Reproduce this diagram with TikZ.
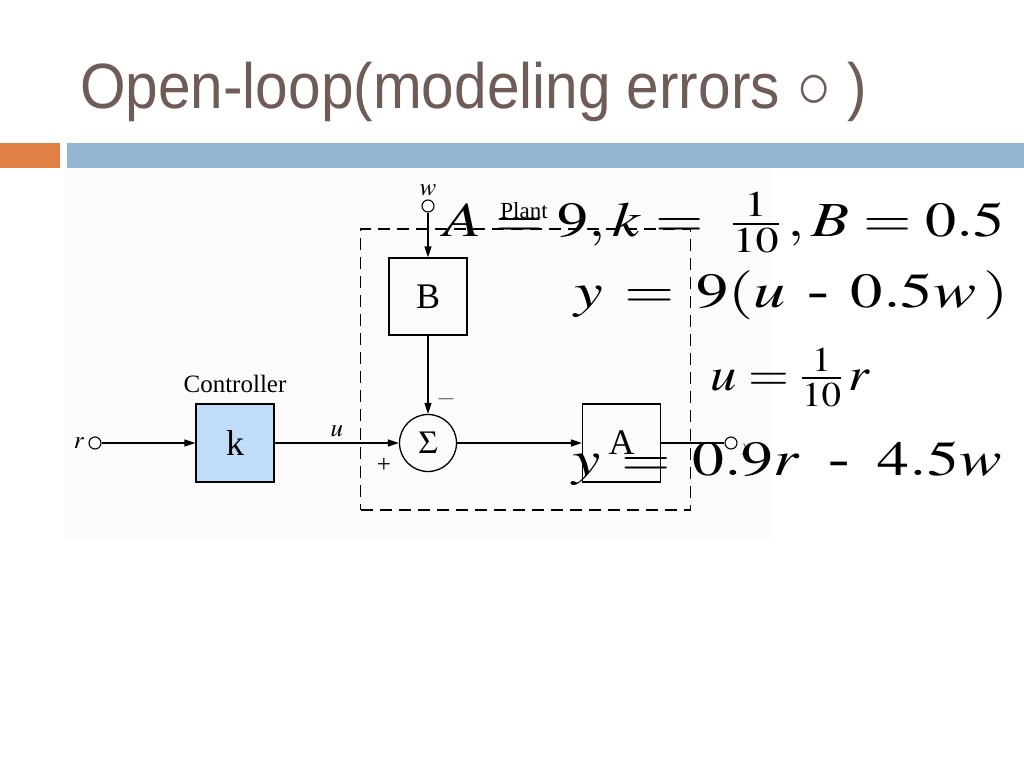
\documentclass[tikz,border=0pt]{standalone}
\usepackage{mathptmx}
\usepackage{fontspec}
\setmainfont{Liberation Serif}
\newfontfamily\titlefont{Liberation Sans}
\usetikzlibrary{arrows.meta,positioning}
\definecolor{titlegray}{RGB}{112,92,86}
\definecolor{barorange}{RGB}{224,128,70}
\definecolor{barblue}{RGB}{147,182,210}
\definecolor{ctrlblue}{RGB}{191,221,248}
\begin{document}
\begin{tikzpicture}[
    x=1pt, y=-1pt,
    >={Triangle[length=11pt,width=7pt]},
    blk/.style={draw, line width=1.3pt, minimum width=78pt, minimum height=78pt,
                inner sep=0pt, font=\fontsize{36}{38}\selectfont},
    port/.style={draw, circle, line width=1.1pt, minimum size=12pt, inner sep=0pt, fill=white},
    sig/.style={line width=1.3pt},
    lbl/.style={inner sep=0pt, font=\fontsize{25}{27}\selectfont},
    eq/.style={inner sep=0pt, anchor=base west, font=\fontsize{49}{51}\selectfont}
]
    \useasboundingbox (0,0) rectangle (1024,768);
    \fill[white] (0,0) rectangle (1024,768);
    \fill[black!1.5] (65,168) rectangle (772,540);
    \fill[barorange] (0,143) rectangle (60,168);
    \fill[barblue] (67,143) rectangle (1024,168);

    \node[inner sep=0pt, anchor=base west, text=titlegray,
          font=\titlefont\fontsize{64}{66}\selectfont] (title) at (80,108)
        {\scalebox{0.915}[1]{Open-loop(modeling errors ○ )}};

    \node[draw, line width=1.8pt, dash pattern=on 12pt off 7pt,
          minimum width=330pt, minimum height=281pt] (plant) at (525.5,369.5) {};
    \node[lbl, font=\fontsize{23}{25}\selectfont] (plantlbl) at (524,211) {Plant};

    \node[port] (r) at (95,443) {};
    \node[lbl, left=4pt of r] (rlbl) {$r$};
    \node[blk, fill=ctrlblue] (k) at (235,443) {k};
    \node[lbl, above=10pt of k] (ctrl) {Controller};
    \node[draw, circle, sig, minimum size=57pt, inner sep=0pt,
          font=\fontsize{32}{34}\selectfont] (sum) at (428,443) {$\Sigma$};
    \node[blk, minimum height=77pt] (B) at (428,296.5) {B};
    \node[blk] (A) at (621.5,443) {A};
    \node[port] (w) at (428,206) {};
    \node[lbl, above=3pt of w] (wlbl) {$w$};
    \node[port] (y) at (731,443) {};
    \node[lbl, font=\fontsize{17}{19}\selectfont, text=black!55] (ylbl) at (746,450) {$y$};
    \node[lbl] (plus) at (384,465) {+};
    \node[lbl, text=black!70] (minus) at (446,399) {$-$};

    \draw[sig, ->] (r) -- (k);
    \draw[sig, ->] (k) -- node[lbl, above=6pt] (ulbl) {$u$} (sum);
    \draw[sig, ->] (w) -- (B);
    \draw[sig, ->] (B) -- (sum);
    \draw[sig, ->] (sum) -- (A);
    \draw[sig] (A) -- (y);

    \node[eq] (eqone) at (443,236)
        {\scalebox{1.27}[1]{$A=9,k=\;\frac{1}{10}\,,B=0.5$}};
    \node[eq] (eqtwo) at (574,307)
        {\scalebox{1.32}[1]{$y\mskip2mu=\mskip2mu9(u\;\,\mbox{-}\;\,0.5w\,)$}};
    \node[eq, font=\fontsize{47}{49}\selectfont] (eqthree) at (710,390)
        {\scalebox{1.12}[1]{$u=\frac{1}{10}\,r$}};
    \node[eq] (eqfour) at (572,475)
        {\scalebox{1.3}[1]{$y\mskip2mu=\mskip2mu0.9r\mskip8mu\mbox{-}\mskip8mu4.5w$}};
\end{tikzpicture}
\end{document}
